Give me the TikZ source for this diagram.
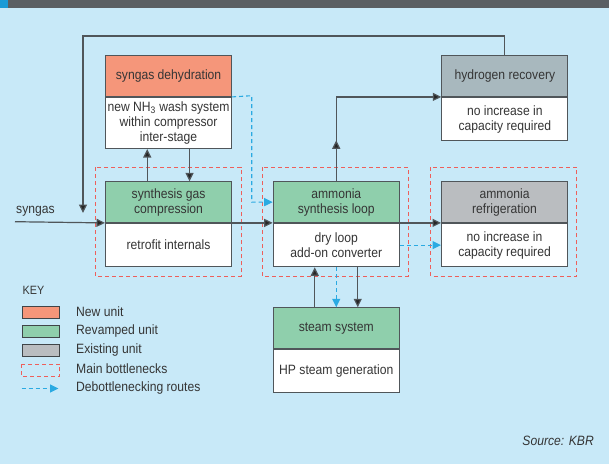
\documentclass[tikz,border=0pt]{standalone}
\usepackage{fontspec}
\setmainfont{Liberation Sans}[FakeStretch=0.9]
\usetikzlibrary{arrows.meta,calc}
\definecolor{bgblue}{HTML}{C8E9F8}
\definecolor{barg}{HTML}{5B5F63}
\definecolor{barb}{HTML}{1A9BD7}
\definecolor{salmon}{HTML}{F5967A}
\definecolor{green}{HTML}{8FCFAC}
\definecolor{greyA}{HTML}{A8B8BE}
\definecolor{greyB}{HTML}{BABDC0}
\definecolor{edge}{HTML}{50565A}
\definecolor{txt}{HTML}{353535}
\definecolor{dblue}{HTML}{2AAAE2}
\definecolor{dred}{HTML}{EE5F5B}
\tikzset{
  hdr/.style={draw=edge, line width=1.1pt, minimum width=126pt, minimum height=40.5pt,
    inner sep=0pt, align=center, text=txt, font=\fontsize{13.5}{15}\selectfont},
  bodybox/.style={hdr, fill=white, minimum height=43.3pt},
  arr/.style={draw=edge, line width=1.2pt, -{Triangle[length=8.5pt,width=8pt,fill=black!85]}},
  plain/.style={draw=edge, line width=1.2pt},
  blu/.style={draw=dblue, line width=1.1pt, dash pattern=on 4pt off 3pt, -{Triangle[length=8.5pt,width=8pt,fill=dblue]}},
  bott/.style={draw=dred, line width=1pt, dash pattern=on 4pt off 3pt},
  lbl/.style={text=txt, inner sep=0pt, font=\fontsize{13.5}{15}\selectfont},
  swatch/.style={draw=edge!80!black, line width=1.1pt, minimum width=37pt, minimum height=11.5pt, inner sep=0pt}
}
\begin{document}
\begin{tikzpicture}[x=1pt,y=-1pt]
\useasboundingbox (0,0) rectangle (609,464);
\fill[bgblue] (0,0) rectangle (609,464);
\fill[barg] (0,0) rectangle (609,8);
\fill[barb] (0,0) rectangle (8,8);

% units
\node[hdr, fill=salmon, anchor=north west] (dehH) at (105,55.3) {syngas dehydration};
\node[bodybox, minimum height=51pt, anchor=north] (dehB) at (dehH.south) {new NH\textsubscript{3} wash system\\within compressor\\inter-stage};

\node[hdr, fill=green, anchor=north west] (compH) at (105,181.3) {synthesis gas\\compression};
\node[bodybox, anchor=north] (compB) at (compH.south) {retrofit internals};

\node[hdr, fill=green, anchor=north west] (loopH) at (272.7,181.3) {ammonia\\synthesis loop};
\node[bodybox, anchor=north] (loopB) at (loopH.south) {dry loop\\add-on converter};

\node[hdr, fill=greyB, anchor=north west] (refH) at (441,181.3) {ammonia\\refrigeration};
\node[bodybox, anchor=north] (refB) at (refH.south) {no increase in\\capacity required};

\node[hdr, fill=greyA, anchor=north west] (h2H) at (441.3,55.3) {hydrogen recovery};
\node[bodybox, anchor=north] (h2B) at (h2H.south) {no increase in\\capacity required};

\node[hdr, fill=green, anchor=north west] (stH) at (272.7,307.3) {steam system};
\node[bodybox, anchor=north] (stB) at (stH.south) {HP steam generation};

% bottleneck frames
\draw[bott] ([shift={(-10,-14)}]compH.north west) rectangle ([shift={(9,9)}]compB.south east);
\draw[bott] ([shift={(-10.4,-14)}]loopH.north west) rectangle ([shift={(8.3,9)}]loopB.south east);
\draw[bott] ([shift={(-10.3,-14)}]refH.north west) rectangle ([shift={(8.7,9)}]refB.south east);

% syngas feed
\coordinate (sgin) at (15,221.7);
\node[lbl, anchor=west] (sglbl) at (16,211) {syngas};
\draw[arr] (sgin) -- (compH.south west);

% recycle from hydrogen recovery
\coordinate (tl) at (83,36);
\coordinate (topend) at (83,213);
\draw[arr] (h2H.north) |- (tl) -- (topend);

% compression <-> dehydration
\draw[arr] ([xshift=-21.3]compH.north) -- ([xshift=-21.3]dehB.south);
\draw[arr] ([xshift=21]dehB.south) -- ([xshift=21]compH.north);

% compression -> loop
\draw[arr] (compH.south east) -- (loopH.south west);

% debottlenecking from dehydration
\coordinate (bl1) at (251.7,95.7);
\draw[blu] (dehH.south east) -- (bl1) |- (loopH.west);

% loop -> hydrogen recovery
\draw[arr] (loopH.north) |- (h2H.south west);
\draw[arr] (loopH.north) -- ++(0,-41);

% loop -> refrigeration
\draw[arr] (loopH.south east) -- (refH.south west);
\draw[blu] (loopB.east) -- (refB.west);

% loop <-> steam
\draw[arr] ([xshift=-21.5]stH.north) -- ([xshift=-21.5]loopB.south);
\draw[arr] ([xshift=21.5]loopB.south) -- ([xshift=21.5]stH.north);
\draw[blu] (loopB.south) -- (stH.north);

% key
\node[lbl, anchor=west, font=\fontsize{12}{13}\selectfont] (keyt) at (22.5,290.5) {KEY};
\node[swatch, fill=salmon, anchor=north west] (k1) at (21.7,306) {};
\node[swatch, fill=green, anchor=north west] (k2) at (21.7,325) {};
\node[swatch, fill=greyB, anchor=north west] (k3) at (21.7,344) {};
\node[swatch, draw=none, anchor=north west] (k4) at (21.7,364) {};
\draw[bott] (k4.north west) rectangle (k4.south east);
\coordinate (k5a) at (21.5,388.5);
\coordinate (k5b) at (58.5,388.5);
\draw[blu] (k5a) -- (k5b);
\node[lbl, anchor=west] (l1) at (76,311.5) {New unit};
\node[lbl, anchor=west] (l2) at (76,330.5) {Revamped unit};
\node[lbl, anchor=west] (l3) at (76,349.5) {Existing unit};
\node[lbl, anchor=west] (l4) at (76,369) {Main bottlenecks};
\node[lbl, anchor=west] (l5) at (76,388) {Debottlenecking routes};

\node[lbl, anchor=east, font=\itshape\fontsize{13.5}{15}\selectfont] (src) at (594,441) {Source: KBR};
\end{tikzpicture}
\end{document}
